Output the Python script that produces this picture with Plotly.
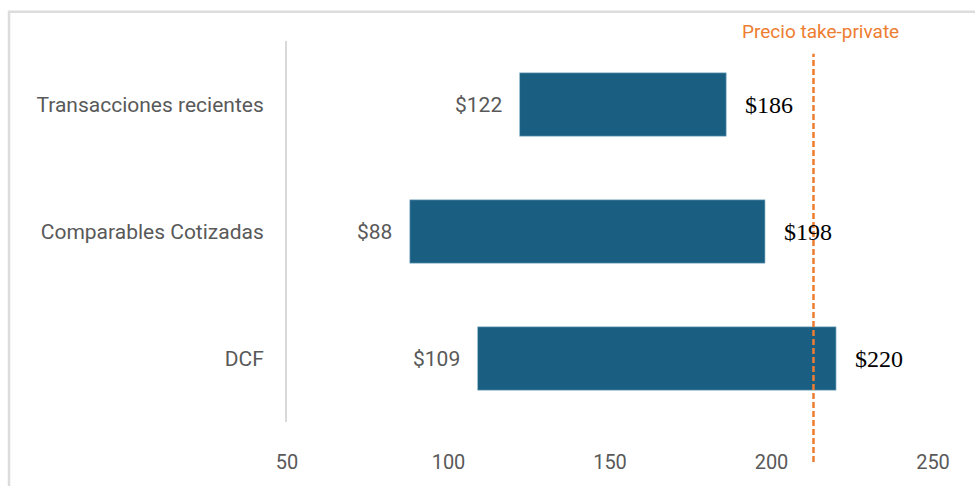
import plotly.graph_objects as go

# Valuation ranges per method (price per share)
methods = ["Transacciones recientes", "Comparables Cotizadas", "DCF"]
low_values = [122, 88, 109]
high_values = [186, 198, 220]
take_private_price = 213
x_ticks = [50, 100, 150, 200, 250]

BAR_COLOR = "#1a5f81"
ORANGE = "#ed7d31"
GRAY_TEXT = "#595959"
SANS = "Roboto, sans-serif"

fig = go.Figure()

fig.add_trace(go.Bar(
    y=methods,
    x=[h - l for l, h in zip(low_values, high_values)],
    base=low_values,
    orientation="h",
    marker=dict(color=BAR_COLOR, line=dict(color="#9fc3d6", width=0.6)),
    width=0.5,
    hoverinfo="skip",
    showlegend=False,
))

# Range end labels
for m, lo, hi in zip(methods, low_values, high_values):
    fig.add_annotation(
        x=lo, y=m, xref="x", yref="y", text=f"${lo}", showarrow=False,
        xanchor="right", xshift=-16,
        font=dict(family=SANS, size=21, color=GRAY_TEXT),
    )
    fig.add_annotation(
        x=hi, y=m, xref="x", yref="y", text=f"${hi}", showarrow=False,
        xanchor="left", xshift=17,
        font=dict(family="Liberation Serif, Times New Roman, serif", size=24, color="#000000"),
    )

# Take-private reference line
fig.add_shape(
    type="line", xref="x", yref="paper",
    x0=take_private_price, x1=take_private_price, y0=-0.105, y1=0.9666,
    line=dict(color=ORANGE, width=2.5, dash="6px,3px"),
)
fig.add_annotation(
    x=take_private_price, y=1.0257, xref="x", yref="paper",
    text="Precio take-private", showarrow=False, xanchor="center", yanchor="middle",
    xshift=7,
    font=dict(family=SANS, size=19, color=ORANGE),
)

# Chart frame
fig.add_shape(
    type="rect", xref="paper", yref="paper",
    x0=-0.4303, x1=1.1, y0=-0.2, y1=1.077,
    line=dict(color="#dcdcdc", width=2.5), fillcolor="rgba(0,0,0,0)", layer="below",
)

fig.update_layout(
    width=975, height=486,
    margin=dict(l=287, r=42, t=41, b=56),
    plot_bgcolor="white", paper_bgcolor="white",
    xaxis=dict(
        range=[50, 250], tickvals=x_ticks, ticktext=[str(t) for t in x_ticks],
        showgrid=False, zeroline=False, showline=False, ticks="",
        ticklabelstandoff=26,
        tickfont=dict(family=SANS, size=20, color=GRAY_TEXT),
    ),
    yaxis=dict(
        categoryorder="array", categoryarray=methods, autorange="reversed",
        showgrid=False, zeroline=False, showline=True, linecolor="#d9d9d9", linewidth=2,
        ticks="", ticklabelstandoff=17,
        tickfont=dict(family=SANS, size=21, color=GRAY_TEXT),
    ),
)

fig.write_html("out.html")
